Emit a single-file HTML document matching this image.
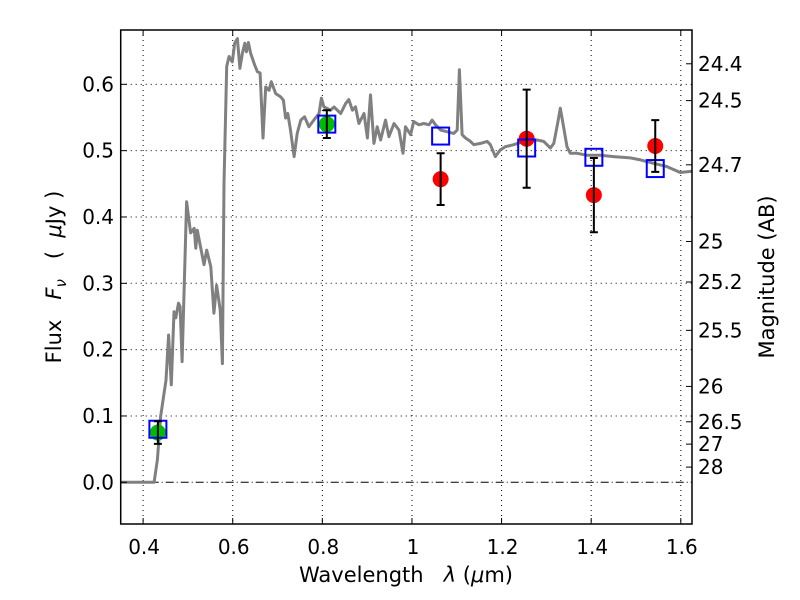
<!DOCTYPE html>
<html><head><meta charset="utf-8"><style>
body{margin:0;background:#fff;}
svg{display:block;font-family:"DejaVu Sans","Liberation Sans",sans-serif;}
</style></head><body>
<svg id="chart" width="800" height="600" viewBox="0 0 800 600">
<rect width="800" height="600" fill="#fff"/>
<g id="grid"></g>
<g id="spec"></g>
<g id="marks"></g>
<rect x="120.7" y="30" width="571.3" height="494" fill="none" stroke="#000" stroke-width="1.5"/>
<g id="axes"></g>
<text x="406" y="582" text-anchor="middle" font-size="21">Wavelength&#160;&#160;&#160;<tspan font-style="italic">λ</tspan>&#160;(<tspan font-style="italic">μ</tspan>m)</text>
<text transform="translate(61,277) rotate(-90)" text-anchor="middle" font-size="21">Flux&#160;&#160;&#160;<tspan font-style="italic">F</tspan><tspan font-style="italic" font-size="15" dy="5">ν</tspan><tspan dy="-5">&#160;&#160;&#160;(&#160;&#160;</tspan><tspan font-style="italic">μ</tspan>Jy&#160;)</text>
<text transform="translate(774,277) rotate(-90)" text-anchor="middle" font-size="21">Magnitude (AB)</text>
</svg>
<script>
const specLam=[0.35,0.4245,0.432,0.439,0.451,0.457,0.463,0.469,0.473,0.479,0.4825,0.487,0.497,0.506,0.514,0.5175,0.521,0.536,0.542,0.551,0.558,0.564,0.572,0.577,0.5805,0.5866,0.592,0.599,0.6045,0.6105,0.616,0.6215,0.627,0.6305,0.635,0.64,0.649,0.655,0.661,0.6675,0.6735,0.681,0.686,0.696,0.707,0.713,0.718,0.723,0.729,0.737,0.744,0.752,0.7605,0.77,0.781,0.7925,0.798,0.8035,0.8185,0.826,0.841,0.852,0.859,0.867,0.874,0.8815,0.893,0.9005,0.9075,0.915,0.9225,0.93,0.941,0.9485,0.96,0.971,0.98,0.9855,0.997,1.004,1.0155,1.0265,1.038,1.045,1.0525,1.064,1.0935,1.101,1.106,1.112,1.1195,1.1305,1.138,1.153,1.168,1.175,1.186,1.197,1.2085,1.227,1.2495,1.279,1.294,1.309,1.3165,1.325,1.331,1.337,1.346,1.3535,1.3685,1.391,1.4205,1.45,1.487,1.51,1.539,1.569,1.599,1.625];
const specFlux=[0,0,0.034,0.099,0.154,0.222,0.147,0.257,0.248,0.27,0.265,0.182,0.423,0.376,0.383,0.353,0.38,0.328,0.35,0.325,0.255,0.297,0.26,0.179,0.45,0.627,0.642,0.634,0.662,0.669,0.624,0.647,0.662,0.649,0.663,0.647,0.629,0.619,0.617,0.519,0.596,0.591,0.604,0.586,0.581,0.576,0.549,0.556,0.531,0.491,0.526,0.546,0.551,0.536,0.546,0.556,0.579,0.566,0.561,0.566,0.556,0.571,0.577,0.561,0.566,0.541,0.556,0.519,0.584,0.511,0.536,0.516,0.546,0.521,0.541,0.531,0.496,0.536,0.524,0.544,0.539,0.541,0.539,0.546,0.539,0.531,0.526,0.531,0.622,0.524,0.519,0.514,0.509,0.511,0.514,0.509,0.491,0.501,0.506,0.509,0.514,0.516,0.514,0.504,0.511,0.541,0.564,0.541,0.506,0.496,0.496,0.493,0.493,0.491,0.489,0.486,0.481,0.476,0.467,0.469];
const obsLam=[0.433,0.81,1.064,1.256,1.406,1.543];
const obsFlux=[0.075,0.54,0.457,0.518,0.433,0.507];
const obsErr=[0.017,0.021,0.039,0.074,0.056,0.039];
const obsColor=['#00bb00','#00bb00','red','red','red','red'];
const modelFlux=[0.08,0.54,0.522,0.504,0.49,0.473];
const xTicks=[0.4,0.6,0.8,1.0,1.2,1.4,1.6];
const xTickLabels=['0.4','0.6','0.8','1','1.2','1.4','1.6'];
const yTicks=[0,0.1,0.2,0.3,0.4,0.5,0.6];
const yTickLabels=['0.0','0.1','0.2','0.3','0.4','0.5','0.6'];
const magTicks=[24.4,24.5,24.7,25,25.2,25.5,26,26.5,27,28];
const NS='http://www.w3.org/2000/svg';
const X=v=>120.7+(v-0.35)/(1.625-0.35)*571.3;
const Y=v=>482.3-v*663.3;
function mk(tag,attrs,parent){const e=document.createElementNS(NS,tag);for(const k in attrs)e.setAttribute(k,attrs[k]);parent.appendChild(e);return e;}
const grid=document.getElementById('grid'),axes=document.getElementById('axes'),spec=document.getElementById('spec'),marks=document.getElementById('marks');
xTicks.forEach((t,i)=>{
  const g=mk('line',{x1:X(t),x2:X(t),y1:30,y2:524,stroke:'#000','stroke-width':1,'stroke-dasharray':'1,4'},grid);
  
  
  mk('line',{x1:X(t),x2:X(t),y1:524,y2:518,stroke:'#000'},axes);
  mk('line',{x1:X(t),x2:X(t),y1:30,y2:36,stroke:'#000'},axes);
  const tx=mk('text',{x:X(t)+1,y:554,'text-anchor':'middle','font-size':20},axes);
  tx.textContent=xTickLabels[i];
  
  
});
yTicks.forEach((t,i)=>{
  const g=mk('line',{x1:120.7,x2:692,y1:Y(t),y2:Y(t),stroke:'#000','stroke-width':1,'stroke-dasharray':t===0?'8,3,1,3':'1,4'},grid);
  
  
  mk('line',{x1:120.7,x2:127,y1:Y(t),y2:Y(t),stroke:'#000'},axes);
  const tx=mk('text',{x:114,y:Y(t)+7,'text-anchor':'end','font-size':20},axes);
  tx.textContent=yTickLabels[i];
  
  
});
magTicks.forEach(m=>{
  const f=Math.pow(10,(23.9-m)/2.5);
  mk('line',{x1:686,x2:692,y1:Y(f),y2:Y(f),stroke:'#000'},axes);
  const tx=mk('text',{x:698,y:Y(f)+7,'font-size':20},axes);
  tx.textContent=String(m);
  
  
});
let d='';specLam.forEach((l,i)=>{d+=(i?'L':'M')+X(l).toFixed(1)+','+Y(specFlux[i]).toFixed(1);});
const p=mk('path',{d:d,fill:'none',stroke:'#808080','stroke-width':3,'stroke-linejoin':'round'},spec);


obsLam.forEach((l,i)=>{
  const x=X(l);
  const c=mk('circle',{cx:x,cy:Y(obsFlux[i]),r:8,fill:obsColor[i]},marks);
  
  
  const s=mk('rect',{x:x-8.5,y:Y(modelFlux[i])-8.5,width:17,height:17,fill:'none',stroke:'#0000ff','stroke-width':2},marks);
  
  
  const y1=Y(obsFlux[i]+obsErr[i]),y2=Y(obsFlux[i]-obsErr[i]);
  const e=mk('path',{d:`M${x},${y1}L${x},${y2}M${x-4},${y1}L${x+4},${y1}M${x-4},${y2}L${x+4},${y2}`,stroke:'#000','stroke-width':2,fill:'none'},marks);
  
  
});
</script>
</body></html>
